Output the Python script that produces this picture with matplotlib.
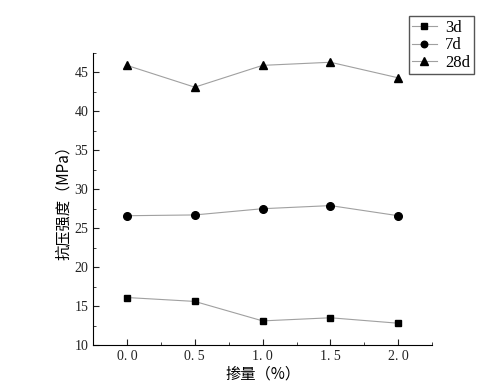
import matplotlib
matplotlib.use('Agg')
import matplotlib.pyplot as plt
from matplotlib.ticker import MultipleLocator

dosage = [0.0, 0.5, 1.0, 1.5, 2.0]
s3d = [16.1, 15.6, 13.1, 13.5, 12.8]
s7d = [26.6, 26.7, 27.5, 27.9, 26.6]
s28d = [45.9, 43.1, 45.9, 46.3, 44.3]

plt.rcParams['font.family'] = ['Liberation Serif', 'Noto Sans CJK SC']

fig = plt.figure(figsize=(5.04, 3.89), dpi=100)
ax = fig.add_axes([0.1845, 0.113, 0.673, 0.751])

line_kw = dict(color='#a0a0a0', linewidth=0.8, markeredgecolor='black', markerfacecolor='black')
ax.plot(dosage, s3d, marker='s', markersize=5, label='3d', **line_kw)
ax.plot(dosage, s7d, marker='o', markersize=5.5, label='7d', **line_kw)
ax.plot(dosage, s28d, marker='^', markersize=6, label='28d', **line_kw)

ax.set_xlim(-0.25, 2.25)
ax.set_ylim(10, 47.5)
ax.xaxis.set_minor_locator(MultipleLocator(0.25))
ax.yaxis.set_major_locator(MultipleLocator(5))
ax.yaxis.set_minor_locator(MultipleLocator(2.5))
ax.set_xticks(dosage)
ax.set_xticklabels(['0. 0', '0. 5', '1. 0', '1. 5', '2. 0'])
ax.tick_params(which='both', direction='in', labelsize=10, colors='#222222')
ax.tick_params(which='major', length=4)
ax.tick_params(which='minor', length=2.5)
for s in ['top', 'right']:
    ax.spines[s].set_visible(False)

ax.set_xlabel('掺量（%）', family=['Noto Sans CJK SC'], fontsize=11, labelpad=2)
ax.set_ylabel('抗压强度（MPa）', family=['Noto Sans CJK SC'], fontsize=11, labelpad=2)

fig.legend(loc='upper right', bbox_to_anchor=(0.943, 0.962), fancybox=False,
           edgecolor='#555555', fontsize=12, handlelength=1.5, handletextpad=0.5,
           borderpad=0.2, borderaxespad=0.1, labelspacing=0.1, framealpha=1,
           markerscale=0.85)

fig.savefig('out.png', dpi=100)
